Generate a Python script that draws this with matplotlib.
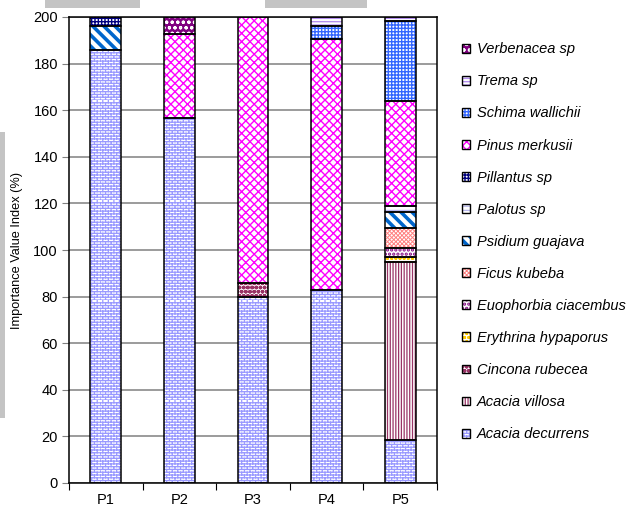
"""
Stacked importance value index (IVI) of tree species for plots P1-P5.
"""
import warnings
import numpy as np
import matplotlib
matplotlib.use("Agg")
import matplotlib.pyplot as plt
from matplotlib import hatch as mhatch
from matplotlib.patches import Rectangle
from matplotlib.legend_handler import HandlerPatch

warnings.filterwarnings("ignore")

plots = ["P1", "P2", "P3", "P4", "P5"]

# species listed bottom -> top of each stack
species = [
    "Acacia decurrens", "Acacia villosa", "Cincona rubecea", "Erythrina hypaporus",
    "Euophorbia ciacembus", "Ficus kubeba", "Psidium guajava", "Palotus sp",
    "Pillantus sp", "Pinus merkusii", "Schima wallichii", "Trema sp", "Verbenacea sp",
]

acacia_decurrens = [186.0, 156.5, 80.0, 83.0, 18.5]
acacia_villosa = [0, 0, 0, 0, 76.5]
cincona_rubecea = [0, 0, 6.0, 0, 0]
erythrina_hypaporus = [0, 0, 0, 0, 1.8]
euophorbia_ciacembus = [0, 0, 0, 0, 4.2]
ficus_kubeba = [0, 0, 0, 0, 8.3]
psidium_guajava = [10.0, 0, 0, 0, 6.9]
palotus_sp = [0, 0, 0, 0, 2.5]
pillantus_sp = [4.0, 0, 0, 0, 0]
pinus_merkusii = [0, 36.0, 114.0, 107.5, 45.2]
schima_wallichii = [0, 0, 0, 5.5, 34.5]
trema_sp = [0, 0, 0, 4.0, 1.6]
verbenacea_sp = [0, 7.5, 0, 0, 0]

ivi = [acacia_decurrens, acacia_villosa, cincona_rubecea, erythrina_hypaporus,
       euophorbia_ciacembus, ficus_kubeba, psidium_guajava, palotus_sp,
       pillantus_sp, pinus_merkusii, schima_wallichii, trema_sp, verbenacea_sp]

y_ticks = list(range(0, 201, 20))


class BrickHatch(mhatch.HatchPatternBase):
    """Brick-wall fill, selected with the letter 'b' in a hatch string."""

    def __init__(self, hatch, density):
        n = hatch.count('b') * density
        self.rows = n + (n % 2)
        self.num_vertices = 0 if n == 0 else 2 * self.rows + self.rows * self.rows

    def set_vertices_and_codes(self, vertices, codes):
        n = self.rows
        k = 0
        for i in range(n):
            y0, y1 = i / n, (i + 1) / n
            vertices[k] = (0.0, y0)
            vertices[k + 1] = (1.0, y0)
            codes[k], codes[k + 1] = mhatch.Path.MOVETO, mhatch.Path.LINETO
            k += 2
            for j in range(n // 2):
                x = (2 * j + (i % 2)) / n
                vertices[k] = (x, y0)
                vertices[k + 1] = (x, y1)
                codes[k], codes[k + 1] = mhatch.Path.MOVETO, mhatch.Path.LINETO
                k += 2


mhatch._hatch_types.append(BrickHatch)

# face colour, hatch, hatch colour, hatch line width
styles = {
    "Acacia decurrens": ("white", "bbbbbb", "#9999ff", 0.9),
    "Acacia villosa": ("white", "||||||", "#993366", 0.9),
    "Cincona rubecea": ("white", "oooo", "#993366", 1.4),
    "Erythrina hypaporus": ("white", "oooo", "#ffcc00", 1.0),
    "Euophorbia ciacembus": ("white", "....", "#800080", 1.6),
    "Ficus kubeba": ("white", "xxxxxxxx", "#ff8080", 0.7),
    "Psidium guajava": ("white", "\\\\\\", "#0066cc", 2.6),
    "Palotus sp": ("white", "----", "#b8b8ee", 0.9),
    "Pillantus sp": ("white", "+++++", "#000080", 1.0),
    "Pinus merkusii": ("white", "xxxx", "#ff00ff", 1.0),
    "Schima wallichii": ("white", "+++++", "#3366ff", 1.0),
    "Trema sp": ("white", "-----", "#b48ef0", 1.0),
    "Verbenacea sp": ("#800080", "ooo", "white", 0.8),
}

plt.rcParams['font.family'] = ['Liberation Sans', 'DejaVu Sans']

fig = plt.figure(figsize=(6.42, 5.16), dpi=100)
ax = fig.add_axes([69 / 642, 33 / 516, 368 / 642, 466 / 516])

x = np.arange(len(plots))
bar_w = 0.42
bottom = np.zeros(len(plots))
for name, vals in zip(species, ivi):
    vals = np.asarray(vals, dtype=float)
    face, hatch, hcol, hlw = styles[name]
    idx = vals > 0
    with plt.rc_context({'hatch.linewidth': hlw}):
        ax.bar(x[idx], vals[idx], bar_w, bottom=bottom[idx], color=face,
               edgecolor=hcol, hatch=hatch, linewidth=0, zorder=2)
    ax.bar(x[idx], vals[idx], bar_w, bottom=bottom[idx], fill=False,
           edgecolor='black', linewidth=1.1, zorder=3)
    bottom += vals

ax.set_xlim(-0.5, len(plots) - 0.5)
ax.set_ylim(0, 200)
ax.set_yticks(y_ticks)
ax.yaxis.grid(True, color='#808080', linewidth=1.1, zorder=0)
ax.set_axisbelow(True)
ax.tick_params(axis='y', labelsize=10.5, length=5, color='#808080', pad=3)

ax.set_xticks(np.arange(len(plots) + 1) - 0.5)
ax.set_xticklabels([])
ax.tick_params(axis='x', which='major', length=5, color='black')
ax.set_xticks(x, minor=True)
ax.set_xticklabels(plots, minor=True)
ax.tick_params(axis='x', which='minor', length=0, labelsize=10.5, pad=7)

for sp in ax.spines.values():
    sp.set_color('black')
    sp.set_linewidth(1.1)

ax.set_ylabel('Importance Value Index (%)', fontsize=9.2)
ax.yaxis.set_label_coords(-46 / 368, 0.5)


class OutlinedHandler(HandlerPatch):
    def create_artists(self, legend, orig_handle, xdescent, ydescent,
                       width, height, fontsize, trans):
        face, hatch, hcol, hlw = orig_handle.style
        with plt.rc_context({'hatch.linewidth': hlw}):
            inner = Rectangle((-xdescent, -ydescent), width, height,
                              facecolor=face, edgecolor=hcol, hatch=hatch,
                              linewidth=0, transform=trans)
        outer = Rectangle((-xdescent, -ydescent), width, height, fill=False,
                          edgecolor='black', linewidth=1.0, transform=trans)
        return [inner, outer]


handles = []
for name in species[::-1]:
    h = Rectangle((0, 0), 1, 1)
    h.style = styles[name]
    handles.append(h)

fig.legend(handles, species[::-1], loc='upper left',
           bbox_to_anchor=(455 / 642, 1 - 35 / 516), frameon=False,
           prop={'style': 'italic', 'size': 10.5},
           handler_map={Rectangle: OutlinedHandler()},
           handlelength=0.55, handleheight=0.55, handletextpad=0.45,
           labelspacing=1.24, borderpad=0)

# grey scan marks along the page edges
for (x0, y0, w, h) in [(45, 0, 95, 8), (265, 0, 102, 8), (0, 132, 5, 286)]:
    fig.patches.append(Rectangle((x0 / 642, 1 - (y0 + h) / 516), w / 642, h / 516,
                                 transform=fig.transFigure, facecolor='#c4c4c4',
                                 edgecolor='none'))

fig.savefig('out.png', dpi=100)
